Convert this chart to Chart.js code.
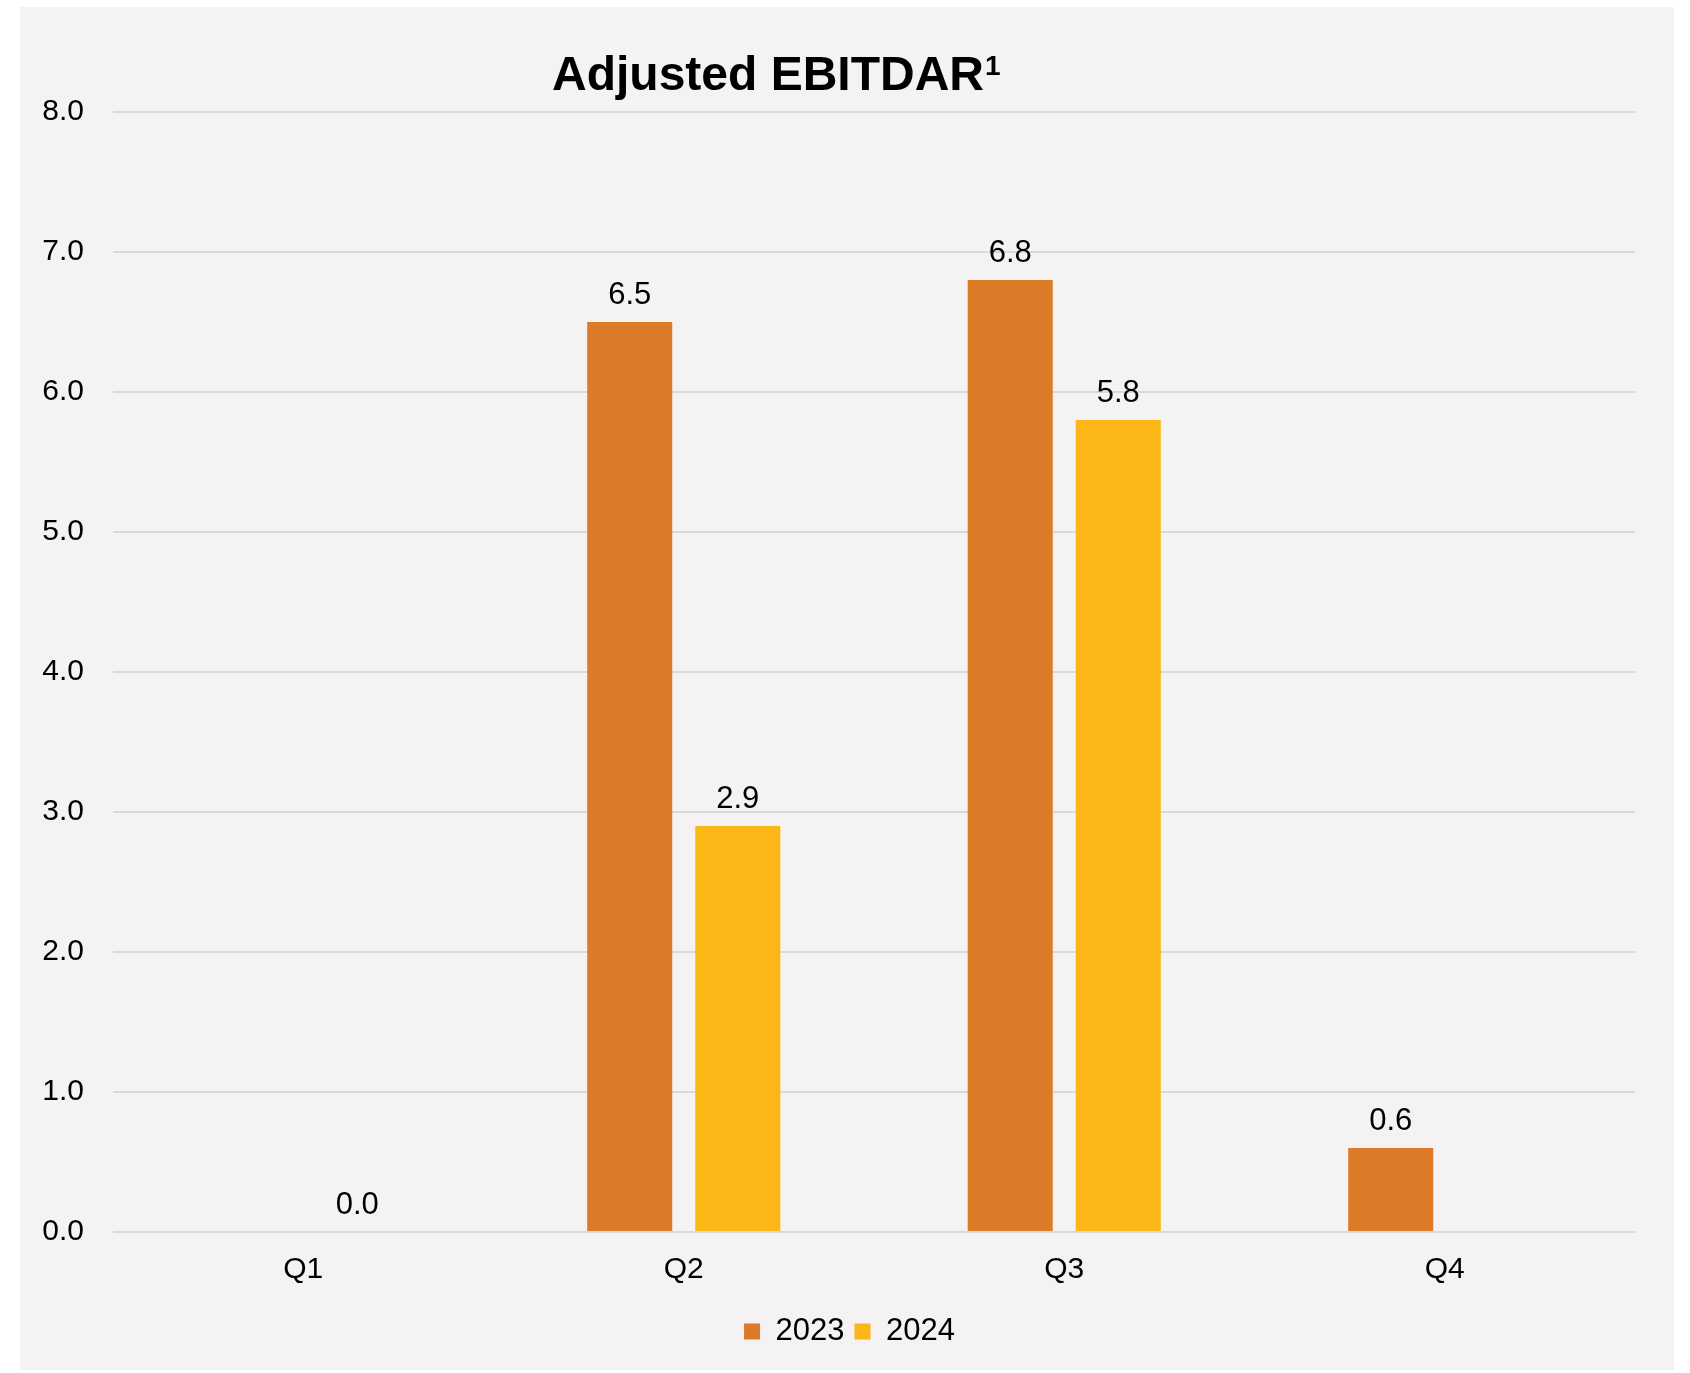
<!DOCTYPE html>
<html>
<head>
<meta charset="utf-8">
<script src="https://cdn.jsdelivr.net/npm/chart.js@4/dist/chart.umd.min.js"></script>
<style>
  html, body { margin: 0; padding: 0; background: #ffffff; }
  #wrap { width: 1690px; height: 1373px; }
</style>
</head>
<body>
<div id="wrap"><canvas id="c" width="1690" height="1373"></canvas></div>
<script>
const categories = ["Q1", "Q2", "Q3", "Q4"];
const seriesNames = ["2023", "2024"];
const values2023 = [null, 6.5, 6.8, 0.6];
const values2024 = [0.0, 2.9, 5.8, null];
const yTicks = [0, 1, 2, 3, 4, 5, 6, 7, 8];
const titleText = "Adjusted EBITDAR";
const titleSup = "1";

const FONT = "'Liberation Sans', Arial, sans-serif";
const COLOR_2023 = "#DD7A27";
const COLOR_2024 = "#FBB716";

const panelBg = {
  id: "panelBg",
  beforeDraw(chart) {
    const ctx = chart.ctx;
    ctx.save();
    ctx.fillStyle = "#ffffff";
    ctx.fillRect(0, 0, chart.width, chart.height);
    ctx.fillStyle = "#F4F2F3";
    ctx.fillRect(20, 7, 1654, 1363);
    ctx.restore();
  }
};

// shift the legend box so that its items are centred where the reference has them
const legendShift = {
  id: "legendShift",
  afterLayout(chart) {
    if (chart.legend) {
      chart.legend.left += 32;
      chart.legend.right += 32;
    }
  }
};

const titleDraw = {
  id: "titleDraw",
  afterDraw(chart) {
    const ctx = chart.ctx;
    ctx.save();
    ctx.fillStyle = "#000000";
    ctx.textBaseline = "alphabetic";
    ctx.textAlign = "left";
    ctx.font = "bold 48px " + FONT;
    const x0 = 552;
    ctx.fillText(titleText, x0, 90);
    const w = ctx.measureText(titleText).width;
    ctx.font = "bold 28px " + FONT;
    ctx.fillText(titleSup, x0 + w + 1, 75);
    ctx.restore();
  }
};

const valueLabels = {
  id: "valueLabels",
  afterDatasetsDraw(chart) {
    const ctx = chart.ctx;
    ctx.save();
    ctx.fillStyle = "#000000";
    ctx.font = "31px " + FONT;
    ctx.textAlign = "center";
    ctx.textBaseline = "alphabetic";
    chart.data.datasets.forEach((ds, di) => {
      const meta = chart.getDatasetMeta(di);
      meta.data.forEach((bar, i) => {
        const v = ds.data[i];
        if (v === null || v === undefined) return;
        ctx.fillText(v.toFixed(1), bar.x, bar.y - 18);
      });
    });
    ctx.restore();
  }
};

new Chart(document.getElementById("c"), {
  type: "bar",
  data: {
    labels: categories,
    datasets: [
      { label: seriesNames[0], data: values2023, backgroundColor: COLOR_2023,
        categoryPercentage: 0.568, barPercentage: 0.787 },
      { label: seriesNames[1], data: values2024, backgroundColor: COLOR_2024,
        categoryPercentage: 0.568, barPercentage: 0.787 }
    ]
  },
  options: {
    responsive: false,
    animation: false,
    layout: { padding: { top: 112, right: 55, bottom: 16, left: 0 } },
    plugins: {
      title: { display: false },
      tooltip: { enabled: false },
      legend: {
        position: "bottom",
        labels: {
          color: "#000000",
          font: { family: FONT, size: 31 },
          boxWidth: 16,
          boxHeight: 16,
          padding: 10
        }
      }
    },
    scales: {
      x: {
        grid: { display: false, drawTicks: false },
        border: { display: false },
        ticks: { color: "#000000", font: { family: FONT, size: 30 }, padding: 20 },
        afterFit(scale) { scale.height = 74; }
      },
      y: {
        min: 0,
        max: 8,
        afterBuildTicks(scale) { scale.ticks = yTicks.map(v => ({ value: v })); },
        ticks: {
          color: "#000000",
          font: { family: FONT, size: 30 },
          padding: 29,
          callback: (v) => Number(v).toFixed(1)
        },
        grid: { color: "#D9D9D9", lineWidth: 2, drawTicks: false },
        border: { display: false },
        afterFit(scale) { scale.width = 113; }
      }
    }
  },
  plugins: [panelBg, legendShift, titleDraw, valueLabels]
});
</script>
</body>
</html>
